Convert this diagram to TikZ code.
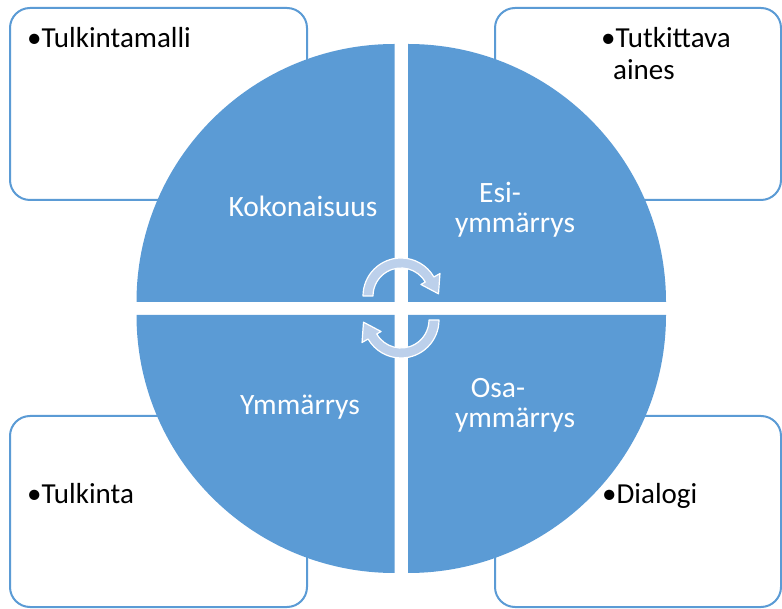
\documentclass[tikz,border=0pt]{standalone}
\usepackage{fontspec}
\setmainfont{Carlito}
\usetikzlibrary{calc}
\definecolor{quad}{HTML}{5B9BD5}
\definecolor{cyc}{HTML}{BCD0EB}
\tikzset{
  turnarrow/.pic={
    \draw[cyclearrow] (180:38) arc[start angle=180,end angle=30,radius=38]
      -- (30:45) -- (37.5,2.2) -- (30:23) -- (30:28)
      arc[start angle=30,end angle=180,radius=28] -- cycle;
  }
}
\begin{document}
\begin{tikzpicture}[x=1pt,y=1pt,
  infobox/.style={draw=quad, line width=2pt, fill=white, rounded corners=20pt},
  quadrant/.style={fill=quad},
  cyclearrow/.style={fill=cyc, draw=white, line width=1.2pt, line join=round},
  boxtext/.style={font=\fontsize{29}{32}\selectfont, text=black, inner sep=0pt, align=left, anchor=base west},
  quadtext/.style={font=\fontsize{29.5}{31}\selectfont, text=white, inner sep=0pt, anchor=base}]
\useasboundingbox (0,0) rectangle (782,608);

% corner boxes behind the circle
\draw[infobox] (10,408) rectangle (307,600);
\draw[infobox] (495,408) rectangle (781,600);
\draw[infobox] (10,1) rectangle (307,192);
\draw[infobox] (495,1) rectangle (781,192);

% four quarter discs
\fill[quadrant] (394.5,306) -- ++(180:258) arc[start angle=180,end angle=90,radius=258] -- cycle;
\fill[quadrant] (408,306) -- ++(90:258) arc[start angle=90,end angle=0,radius=258] -- cycle;
\fill[quadrant] (394.5,293) -- ++(180:258) arc[start angle=180,end angle=270,radius=258] -- cycle;
\fill[quadrant] (408,293) -- ++(0:258) arc[start angle=0,end angle=-90,radius=258] -- cycle;

% cycle arrows in the middle
\pic at (401,312) {turnarrow};
\pic[rotate=180] at (401,288) {turnarrow};

% quadrant labels
\node[quadtext] (koko) at (303,391) {Kokonaisuus};
\node[quadtext] (esi1) at (500,405) {Esi-};
\node[quadtext] (esi2) at (515,375) {ymmärrys};
\node[quadtext] (ymm) at (300,193) {Ymmärrys};
\node[quadtext] (osa1) at (498,210) {Osa-};
\node[quadtext] (osa2) at (515,180) {ymmärrys};

% box texts
\node[boxtext] (tmalli) at (27,560) {•Tulkintamalli};
\node[boxtext] (tutk) at (601,528) {•Tutkittava\\\hspace{12pt}aines};
\node[boxtext] (tulk) at (27,104) {•Tulkinta};
\node[boxtext] (dial) at (602,104) {•Dialogi};
\end{tikzpicture}
\end{document}
